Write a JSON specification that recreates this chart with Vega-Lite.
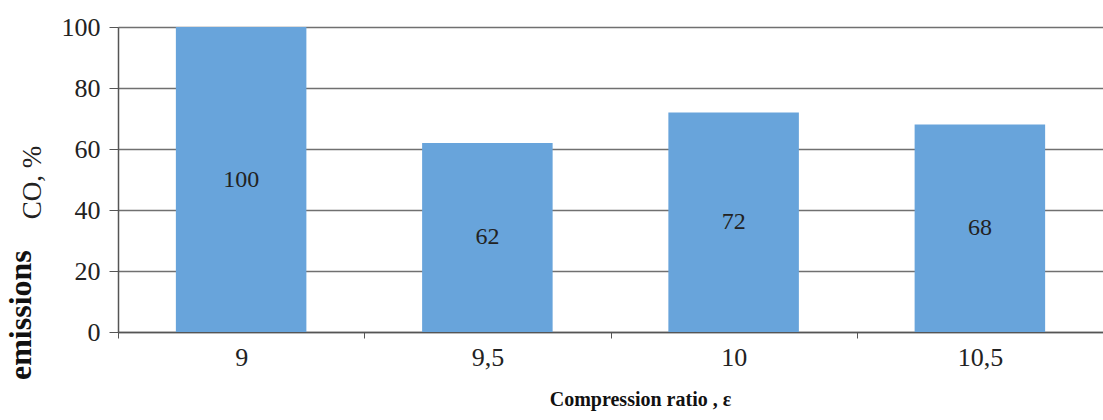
{
  "$schema": "https://vega.github.io/schema/vega-lite/v6.json",
  "width": 985,
  "height": 305,
  "autosize": {"type": "none"},
  "padding": {"left": 118, "top": 27, "right": 0, "bottom": 88},
  "background": "white",
  "config": {
    "font": "Liberation Serif",
    "axis": {"labelFont": "Liberation Serif", "titleFont": "Liberation Serif"},
    "text": {"font": "Liberation Serif"}
  },
  "title": {
    "text": "emissions",
    "orient": "left",
    "anchor": "start",
    "frame": "group",
    "font": "Liberation Serif",
    "fontSize": 32,
    "fontWeight": "bold",
    "color": "#111",
    "offset": -20,
    "dx": -48
  },
  "data": {
    "values": [
      {"ratio": "9", "value": 100},
      {"ratio": "9,5", "value": 62},
      {"ratio": "10", "value": 72},
      {"ratio": "10,5", "value": 68}
    ]
  },
  "encoding": {
    "x": {
      "field": "ratio",
      "type": "nominal",
      "sort": null,
      "scale": {"paddingInner": 0, "paddingOuter": 0},
      "axis": {
        "title": "Compression ratio ,  ε",
        "titleFont": "Liberation Serif",
        "titleFontSize": 20,
        "titleFontWeight": "bold",
        "titleColor": "#111",
        "titlePadding": 19,
        "titleX": 522,
        "labelAngle": 0,
        "labelFont": "Liberation Serif",
        "labelFontSize": 26,
        "labelColor": "#222",
        "labelPadding": 6,
        "tickBand": "extent",
        "tickSize": 6,
        "tickColor": "#555",
        "domainColor": "#555",
        "domainWidth": 1.5,
        "grid": false
      }
    }
  },
  "layer": [
    {
      "mark": {"type": "bar", "color": "#68a4db", "width": {"band": 0.53}},
      "encoding": {
        "y": {
          "field": "value",
          "type": "quantitative",
          "scale": {"domain": [0, 100], "nice": false},
          "axis": {
            "title": "CO, %",
            "titleFont": "Liberation Serif",
            "titleFontSize": 27,
            "titleFontWeight": "normal",
            "titleColor": "#222",
            "titleAlign": "center",
            "titleX": -72,
            "titleY": 155,
            "values": [0, 20, 40, 60, 80, 100],
            "labelFont": "Liberation Serif",
            "labelFontSize": 26,
            "labelColor": "#222",
            "labelPadding": 9,
            "tickSize": 9,
            "tickColor": "#555",
            "domainColor": "#555",
            "domainWidth": 1.5,
            "grid": true,
            "gridColor": "#707070",
            "gridWidth": 1.5
          }
        }
      }
    },
    {
      "mark": {"type": "text", "font": "Liberation Serif", "fontSize": 24, "color": "#222", "baseline": "middle"},
      "encoding": {
        "y": {
          "field": "value",
          "type": "quantitative",
          "scale": {"domain": [0, 200], "nice": false},
          "axis": null
        },
        "text": {"field": "value", "type": "quantitative"}
      }
    }
  ],
  "resolve": {"scale": {"y": "independent"}}
}
